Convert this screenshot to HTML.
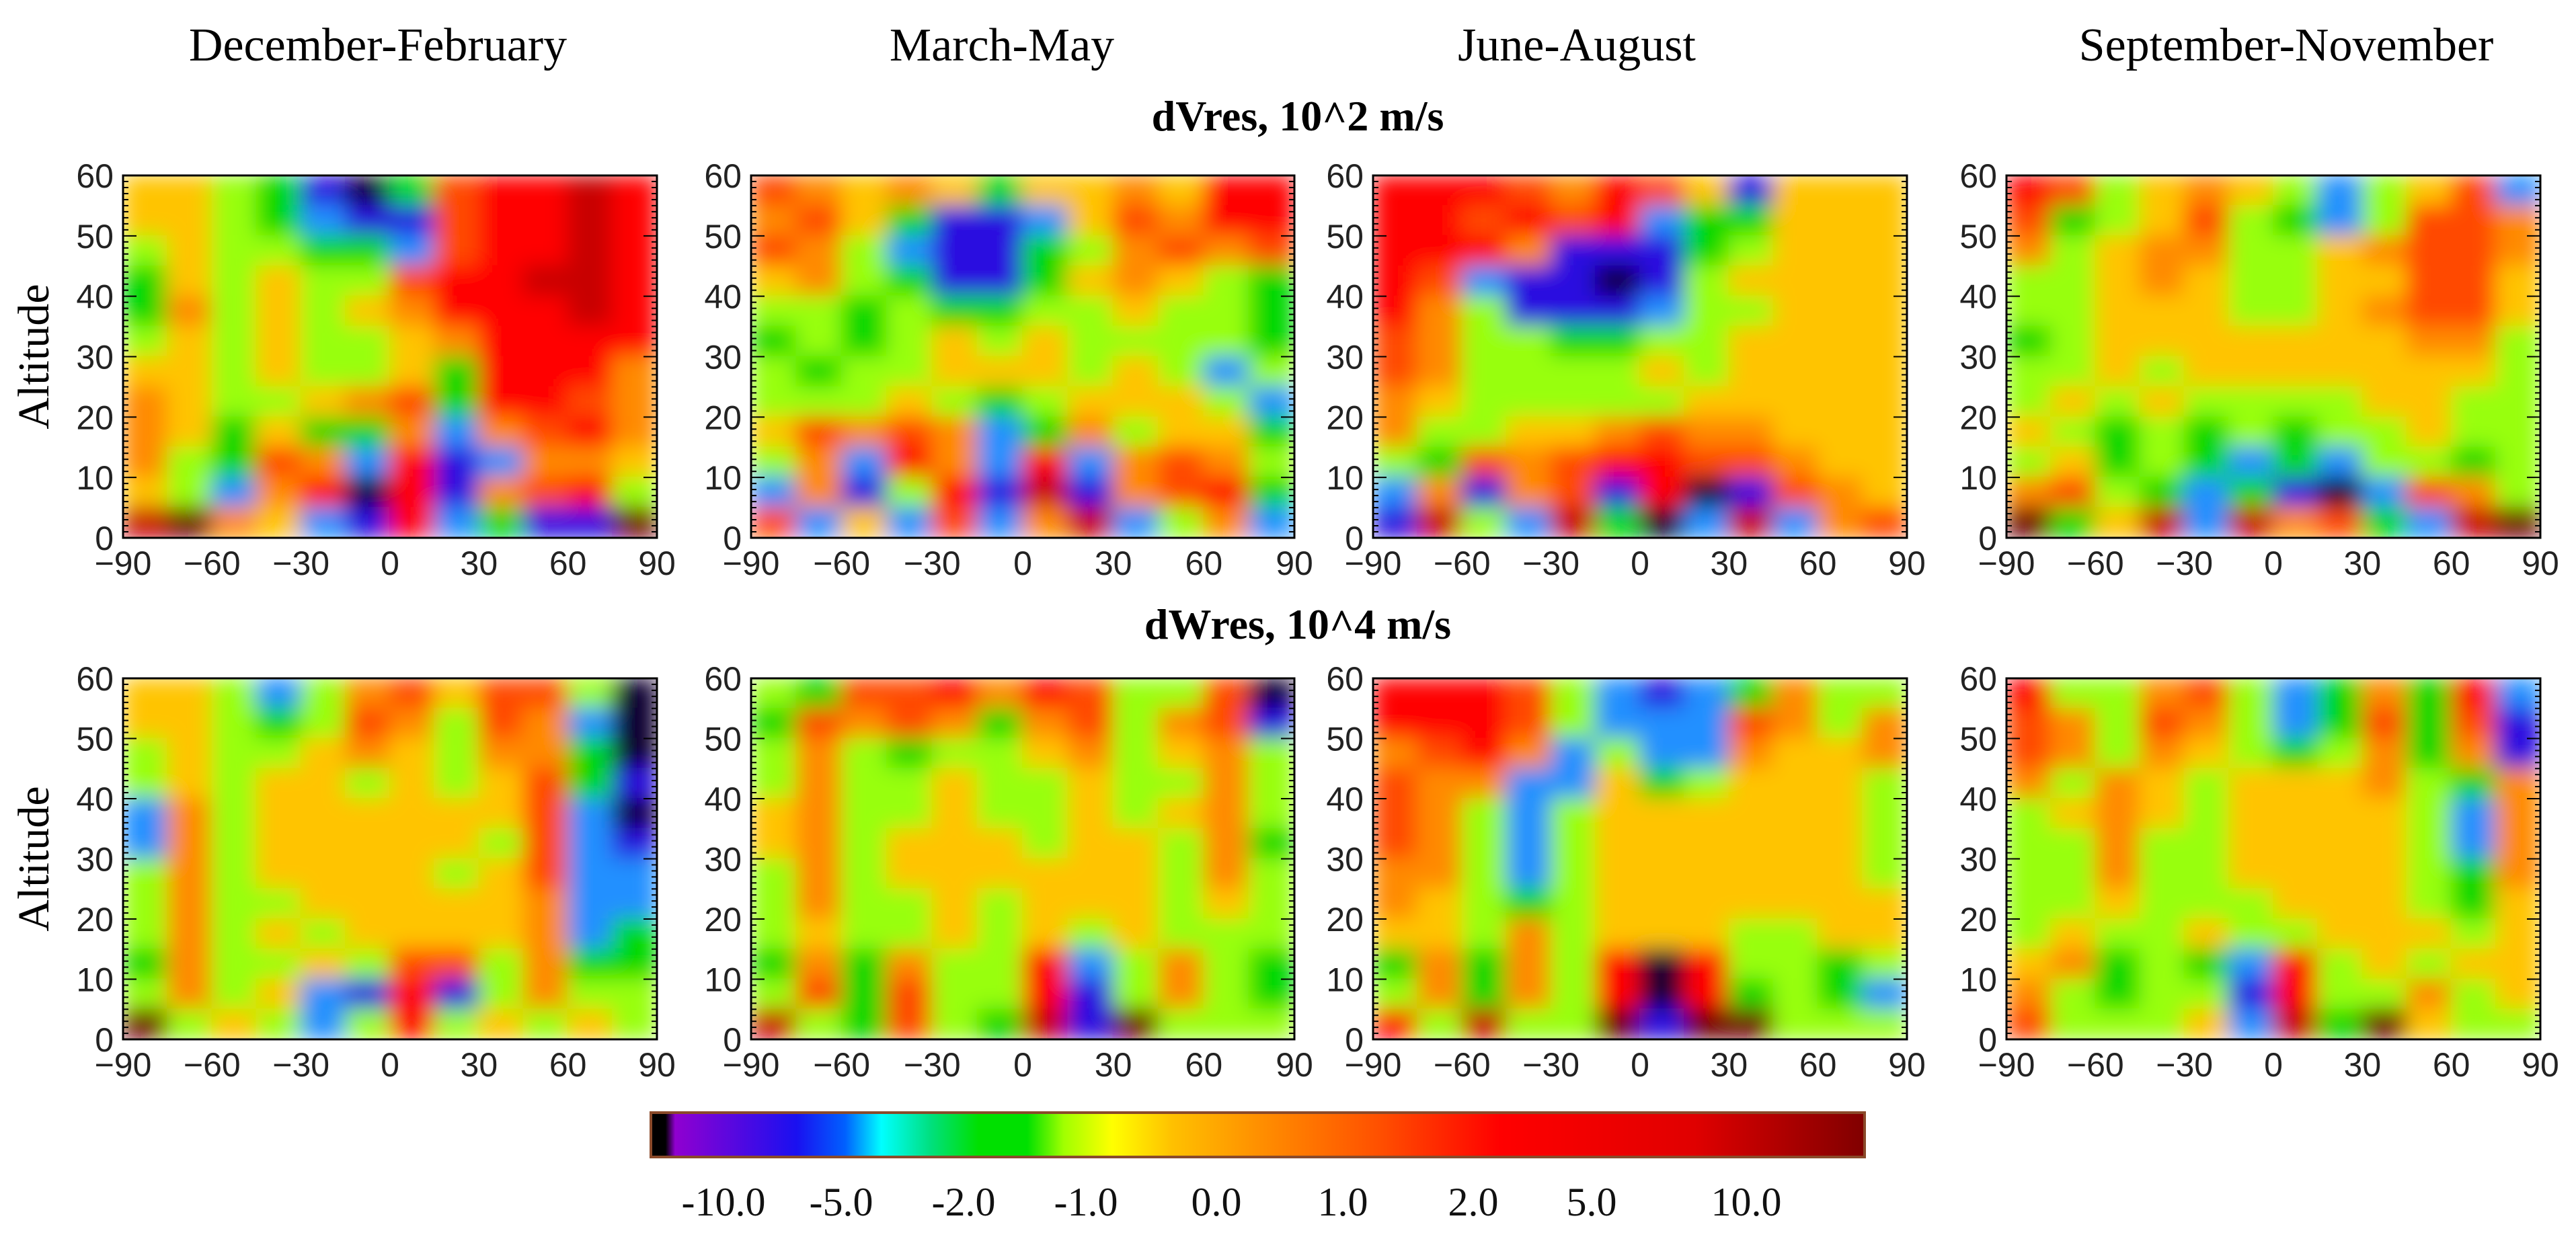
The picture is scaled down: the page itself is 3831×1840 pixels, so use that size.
<!DOCTYPE html>
<html><head><meta charset="utf-8"><style>
html,body{margin:0;padding:0;background:#fff;}
svg{display:block;}
</style></head><body>
<svg id="fig" width="3831" height="1840" viewBox="0 0 3831 1840" xmlns="http://www.w3.org/2000/svg">
<defs>
<filter id="soft" x="-5%" y="-5%" width="110%" height="110%"><feGaussianBlur stdDeviation="16"/></filter>
<linearGradient id="cbar" x1="0" x2="1" y1="0" y2="0">
<stop offset="0" stop-color="#000"/><stop offset="0.012" stop-color="#000"/>
<stop offset="0.02" stop-color="#9000d0"/><stop offset="0.12" stop-color="#1a10f0"/>
<stop offset="0.16" stop-color="#0060ff"/><stop offset="0.19" stop-color="#00ffff"/>
<stop offset="0.23" stop-color="#00e080"/><stop offset="0.27" stop-color="#00e000"/>
<stop offset="0.31" stop-color="#00e000"/><stop offset="0.34" stop-color="#a0ff00"/>
<stop offset="0.38" stop-color="#ffff00"/><stop offset="0.43" stop-color="#ffc000"/>
<stop offset="0.5" stop-color="#ff9000"/><stop offset="0.6" stop-color="#ff5000"/>
<stop offset="0.7" stop-color="#ff0000"/><stop offset="0.86" stop-color="#e00000"/>
<stop offset="1" stop-color="#800000"/>
</linearGradient>
</defs>
<g id="layer"></g>
</svg>
<script>
// level values
const K=-10,B=-5,C=-2,G=-1,L=-0.5,Y=0,O=1,R2=2,R=5,D=10,M=15;
// latitude categories (column centres) and altitude rows (top to bottom)
const latitudes=[-82.5,-67.5,-52.5,-37.5,-22.5,-7.5,7.5,22.5,37.5,52.5,67.5,82.5];
const altitudes=[57.5,52.5,47.5,42.5,37.5,32.5,27.5,22.5,17.5,12.5,7.5,2.5];
const xTicks=[-90,-60,-30,0,30,60,90];
const yTicks=[0,10,20,30,40,50,60];
const seasons=["December-February","March-May","June-August","September-November"];
const cbarLabels=["-10.0","-5.0","-2.0","-1.0","0.0","1.0","2.0","5.0","10.0"];

const dVresDJF=[
[Y,Y,L,G,B,K,G,R2,R,R,D,R],[Y,Y,L,G,C,B,B,R2,R,R,D,R],[L,Y,L,L,G,G,C,R2,R,R,D,R],
[G,Y,L,Y,L,L,R2,R,R,D,D,R],[G,O,L,Y,L,Y,O,R,R,R,D,R],[L,Y,L,Y,L,L,Y,O,R,R,R,R],
[Y,Y,L,Y,L,L,Y,G,R,R,R,O],[O,Y,L,L,Y,O,R2,G,R,R,R2,O],[O,Y,G,Y,G,G,O,C,O,R2,R,O],
[O,L,G,R2,O,C,R,B,C,O,O,Y],[Y,L,C,O,R,K,R,B,O,R2,R,L],[D,M,O,Y,C,B,R,C,G,B,B,M]];
const dVresMAM=[
[R2,O,Y,O,Y,G,Y,Y,O,Y,R,R],[O,R2,Y,G,B,B,C,Y,R2,O,R,R],[R2,O,L,C,B,B,G,L,O,R2,O,R2],
[Y,O,L,G,B,B,G,Y,O,Y,L,G],[L,L,G,L,G,G,L,L,Y,L,L,G],[G,L,G,L,Y,L,Y,L,L,L,L,G],
[L,G,L,L,Y,Y,Y,L,Y,L,C,L],[L,L,L,Y,L,G,L,Y,Y,Y,L,C],[Y,R2,O,R2,O,C,G,O,L,Y,Y,G],
[L,O,C,R,O,C,R,C,O,R2,O,L],[C,O,B,L,R,B,D,B,O,R2,R,G],[R2,C,Y,C,R2,C,O,D,C,L,O,C]];
const dVresJJA=[
[R,R,R,R2,O,R,R2,Y,B,Y,Y,Y],[R,R,R2,R,R2,R,C,G,G,Y,Y,Y],[R,R,R,O,B,B,B,G,L,Y,Y,Y],
[R,R2,C,B,B,K,B,L,Y,Y,Y,Y],[R,O,L,B,B,B,C,L,L,Y,Y,Y],[R2,O,L,L,G,G,L,L,Y,Y,Y,Y],
[R2,O,L,L,L,L,Y,L,Y,Y,Y,Y],[O,Y,L,L,L,L,L,Y,Y,Y,Y,Y],[O,L,L,Y,Y,O,R2,O,O,Y,Y,Y],
[L,G,R2,O,R2,R,R,R2,R2,O,Y,Y],[C,O,B,O,R2,B,R,K,B,R2,O,Y],[B,D,L,C,D,G,K,C,D,C,O,R2]];
const dVresSON=[
[R,R2,L,Y,O,Y,L,C,L,Y,R2,C],[R2,G,L,Y,R2,L,G,C,L,R2,R2,O],[O,L,Y,O,O,L,L,Y,O,R2,R2,O],
[L,L,Y,O,Y,L,L,Y,Y,R2,R2,Y],[L,L,Y,Y,Y,L,L,Y,O,R2,R2,Y],[G,L,Y,Y,Y,Y,Y,Y,Y,O,O,L],
[L,L,Y,L,Y,Y,Y,Y,Y,Y,Y,L],[L,Y,L,Y,L,L,L,L,Y,Y,L,L],[Y,L,G,L,G,L,G,L,L,Y,L,L],
[L,Y,G,L,G,C,G,C,L,L,G,L],[O,R2,L,G,C,G,B,K,C,R2,O,L],[M,G,Y,D,C,D,O,R2,G,C,D,M]];
const dWresDJF=[
[Y,Y,L,C,L,O,R2,Y,R2,R2,L,K],[Y,Y,L,G,L,R2,O,L,R2,O,C,K],[L,Y,L,L,Y,O,Y,L,O,O,G,K],
[L,Y,L,Y,Y,L,Y,L,Y,R2,G,B],[C,O,L,Y,Y,Y,Y,Y,Y,R2,C,K],[C,O,L,Y,Y,Y,Y,Y,L,R2,C,B],
[L,O,L,Y,Y,Y,Y,L,Y,R2,C,C],[L,O,L,L,Y,Y,Y,Y,Y,O,C,C],[L,O,L,Y,L,Y,Y,Y,Y,O,C,G],
[G,O,L,L,Y,L,R2,R2,L,O,G,G],[L,O,L,Y,C,B,R,B,L,O,L,L],[M,L,Y,L,C,L,R,L,Y,L,Y,L]];
const dWresMAM=[
[L,G,R2,R2,R,O,R,R2,L,L,R2,K],[G,R2,O,R2,O,G,O,R2,L,O,R2,B],[L,O,L,G,L,L,Y,O,L,Y,O,L],
[L,O,L,L,Y,L,L,Y,L,L,O,L],[Y,O,L,L,Y,L,L,Y,L,Y,O,L],[Y,O,L,Y,Y,Y,L,Y,Y,L,O,G],
[L,O,L,Y,Y,Y,Y,Y,Y,L,O,L],[L,O,L,L,Y,L,Y,Y,Y,L,Y,L],[L,Y,L,L,Y,L,Y,L,Y,L,L,L],
[G,O,G,O,L,L,R,C,L,O,L,G],[L,R2,G,R2,L,L,R,B,L,O,L,G],[D,L,G,R2,L,G,D,B,M,L,L,L]];
const dWresJJA=[
[R,R,R,R2,L,C,B,C,G,O,L,L],[R,R,R,R2,L,C,C,C,R2,O,L,O],[O,R2,R,O,C,L,C,C,O,Y,Y,O],
[R2,O,O,C,C,Y,G,L,Y,Y,Y,L],[R2,O,L,C,L,Y,Y,Y,Y,Y,Y,L],[R2,O,L,C,L,Y,Y,Y,Y,Y,Y,L],
[O,O,L,C,L,Y,Y,Y,Y,Y,Y,L],[O,Y,L,G,L,Y,Y,Y,Y,Y,Y,Y],[Y,Y,L,O,L,Y,Y,Y,L,L,Y,Y],
[G,O,G,O,L,R,K,R,L,L,G,L],[L,O,G,O,L,R,K,R,G,L,G,C],[R,L,D,L,L,M,B,M,M,L,L,L]];
const dWresSON=[
[R,L,L,O,R2,L,C,G,O,G,R,C],[R2,O,L,R2,O,L,C,G,R2,G,R2,B],[R2,O,L,O,Y,L,G,L,O,G,O,B],
[O,L,O,Y,L,Y,Y,Y,O,L,G,O],[L,Y,O,Y,L,Y,Y,Y,Y,L,C,O],[L,L,O,L,L,Y,Y,Y,Y,L,C,O],
[L,L,O,L,L,Y,Y,Y,Y,L,G,O],[L,L,Y,L,L,L,Y,Y,Y,L,G,Y],[L,Y,L,L,Y,L,L,Y,Y,Y,L,Y],
[Y,O,G,L,G,C,R,L,Y,L,Y,Y],[O,L,G,L,L,B,R,L,L,O,L,Y],[R2,L,L,L,Y,C,D,G,M,Y,L,L]];

const NS="http://www.w3.org/2000/svg";
const layer=document.getElementById('layer');
function mk(tag,attrs,parent){const e=document.createElementNS(NS,tag);for(const k in attrs)e.setAttribute(k,attrs[k]);(parent||layer).appendChild(e);return e;}
function color(v){
  if(v<=-8)return"#0a0030"; if(v<=-4)return"#2a10e0"; if(v<=-1.5)return"#2090ff";
  if(v<=-0.7)return"#00d800"; if(v<=-0.2)return"#98ff10"; if(v<0.5)return"#ffc400";
  if(v<1.5)return"#ff8a00"; if(v<3)return"#ff4a00"; if(v<7)return"#ff0000";
  if(v<12)return"#c80000"; return"#700000";
}
const colsX=[[183,977],[1117,1925],[2042,2836],[2984,3778]];
const rowsY=[[261,800],[1009,1546]];
const fields=[[dVresDJF,dVresMAM,dVresJJA,dVresSON],[dWresDJF,dWresMAM,dWresJJA,dWresSON]];
const serif='"Liberation Serif", serif', sans='"Liberation Sans", sans-serif';

const titleX=[562,1490,2345,3400];
seasons.forEach((s,i)=>{const t=mk('text',{x:titleX[i],y:90,'text-anchor':'middle','font-family':serif,'font-size':70,fill:'#000'});


t.textContent=s;});
const rowTitles=["dVres,  10^2  m/s","dWres,  10^4  m/s"];
const rowTitleY=[194,950];
rowTitles.forEach((s,i)=>{const t=mk('text',{x:1930,y:rowTitleY[i],'text-anchor':'middle','font-family':serif,'font-size':64,'font-weight':'bold',fill:'#000','xml:space':'preserve'});


t.textContent=s;});

for(let r=0;r<2;r++){
  const [y0,y1]=rowsY[r];
  const yS=a=>y1-(a/60)*(y1-y0);
  const lab=mk('text',{x:0,y:0,transform:`translate(72,${(y0+y1)/2}) rotate(-90)`,'text-anchor':'middle','font-family':serif,'font-size':66,fill:'#000'});
  
  
  lab.textContent="Altitude";
  for(let c=0;c<4;c++){
    const [x0,x1]=colsX[c];
    const xS=lat=>x0+(lat+90)/180*(x1-x0);
    const g=mk('g',{});
    
    
    const cid='clip'+r+c;
    const cp=mk('clipPath',{id:cid},g); mk('rect',{x:x0,y:y0,width:x1-x0,height:y1-y0},cp);
    const field=mk('g',{'clip-path':`url(#${cid})`},g);
    const inner=mk('g',{filter:'url(#soft)'},field);
    const data=fields[r][c];
    const cw=(x1-x0)/latitudes.length, ch=(y1-y0)/altitudes.length;
    data.forEach((row,i)=>row.forEach((v,j)=>{
      const cell=mk('rect',{x:xS(latitudes[j])-cw/2-1,y:yS(altitudes[i])-ch/2-1,width:cw+2,height:ch+2,fill:color(v)},inner);
      
      
    }));
    // edge padding so blur doesn't fade at borders
    const fr=mk('rect',{x:x0,y:y0,width:x1-x0,height:y1-y0,fill:'none',stroke:'#000','stroke-width':3},g);
    
    
    for(let a=0;a<=60;a+=1){const yy=yS(a);const Lh=a%10==0?20:8;
      mk('line',{x1:x0,x2:x0+Lh,y1:yy,y2:yy,stroke:'#000','stroke-width':2},g);
      mk('line',{x1:x1,x2:x1-Lh,y1:yy,y2:yy,stroke:'#000','stroke-width':2},g);}
    yTicks.forEach(a=>{const t=mk('text',{x:x0-14,y:yS(a)+18,'text-anchor':'end','font-family':sans,'font-size':50,fill:'#222'},g);
      
      
      t.textContent=a;});
    xTicks.forEach(lat=>{const t=mk('text',{x:xS(lat),y:y1+55,'text-anchor':'middle','font-family':sans,'font-size':50,fill:'#222'},g);
      
      
      t.textContent=(lat<0?'\u2212':'')+Math.abs(lat);});
  }
}
const cb=mk('rect',{x:968,y:1655,width:1805,height:66,fill:'url(#cbar)',stroke:'#8a4a2a','stroke-width':4});


const cbX=[1076,1251,1433,1615,1809,1997,2191,2367,2597];
cbarLabels.forEach((s,i)=>{const t=mk('text',{x:cbX[i],y:1808,'text-anchor':'middle','font-family':serif,'font-size':60,fill:'#111'});


t.textContent=s;});
</script>
</body></html>
